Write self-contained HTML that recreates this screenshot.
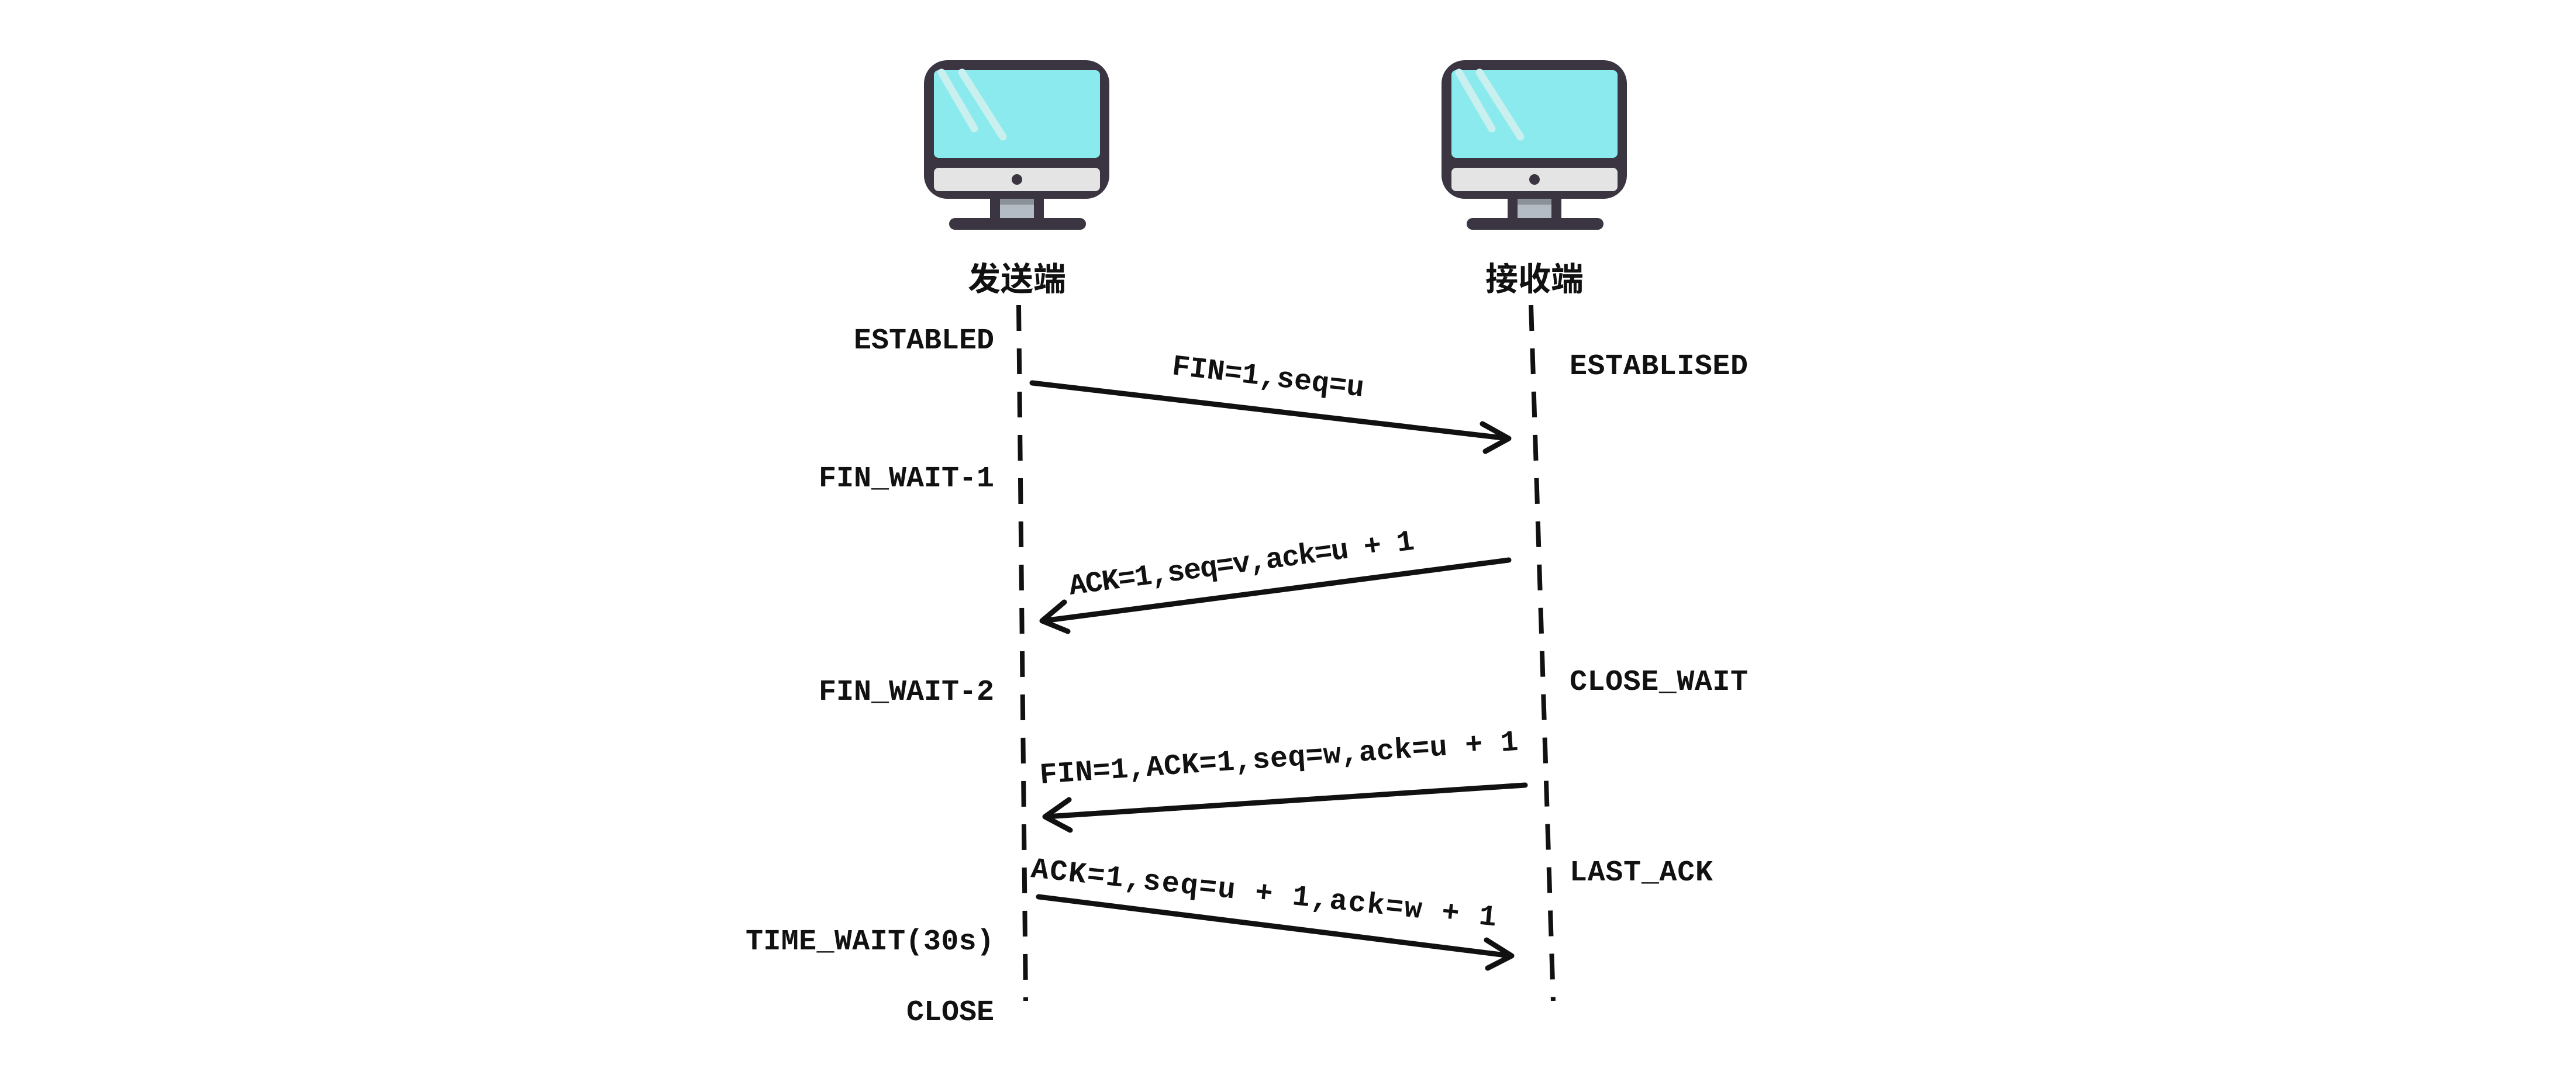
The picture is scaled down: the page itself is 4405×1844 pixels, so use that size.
<!DOCTYPE html>
<html><head><meta charset="utf-8"><style>html,body{margin:0;padding:0;background:#fff}svg{display:block}</style></head>
<body>
<svg width="4405" height="1844" viewBox="0 0 4405 1844" xmlns="http://www.w3.org/2000/svg">
<defs>
<g id="mon">
<rect x="1580" y="103" width="317" height="237" rx="40" fill="#3a3541"/>
<rect x="1597" y="120" width="284" height="150" rx="8" fill="#8aeaee"/>
<line x1="1610" y1="124" x2="1666" y2="220" stroke="#c9efef" stroke-width="13" stroke-linecap="round"/>
<line x1="1645" y1="124" x2="1715" y2="234" stroke="#c9efef" stroke-width="13" stroke-linecap="round"/>
<rect x="1597" y="287" width="284" height="40" rx="8" fill="#e4e4e4"/>
<circle cx="1739" cy="307" r="9" fill="#3a3541"/>
<rect x="1693" y="338" width="92" height="42" fill="#3a3541"/>
<rect x="1710" y="340" width="58" height="36" fill="#b3bbc4"/>
<rect x="1710" y="340" width="58" height="10" fill="#8a9199"/>
<rect x="1623" y="373" width="234" height="20" rx="10" fill="#3a3541"/>
</g>
</defs>
<use href="#mon"/>
<use href="#mon" transform="translate(885,0)"/>
<g font-family="'Liberation Sans','WenQuanYi Zen Hei','Noto Sans CJK SC',sans-serif" font-size="56" font-weight="bold" text-anchor="middle" fill="#111">
<text x="1739" y="497">发送端</text>
<text x="2624" y="497">接收端</text>
</g>
<g stroke="#111" stroke-width="8" stroke-dasharray="44 30">
<line x1="1742" y1="522" x2="1754" y2="1712"/>
<line x1="2618" y1="522" x2="2656" y2="1712"/>
</g>
<g stroke="#111" stroke-width="9" fill="none" stroke-linecap="round" stroke-linejoin="round">
<line x1="1765" y1="655" x2="2578" y2="750"/>
<polyline points="2535,725 2580,750 2540,772"/>
<line x1="2580" y1="958" x2="1784" y2="1062"/>
<polyline points="1820,1030 1782,1062 1826,1080"/>
<line x1="2608" y1="1343" x2="1789" y2="1397"/>
<polyline points="1828,1368 1787,1397 1830,1420"/>
<line x1="1776" y1="1534" x2="2583" y2="1635"/>
<polyline points="2542,1608 2585,1635 2544,1656"/>
</g>
<g font-family="'Liberation Mono',monospace" font-size="50" font-weight="bold" fill="#111">
<g text-anchor="end">
<text x="1700" y="596" textLength="240">ESTABLED</text>
<text x="1700" y="832" textLength="300">FIN_WAIT-1</text>
<text x="1700" y="1197" textLength="300">FIN_WAIT-2</text>
<text x="1700" y="1624" textLength="425">TIME_WAIT(30s)</text>
<text x="1700" y="1745" textLength="150">CLOSE</text>
</g>
<text x="2684" y="640" textLength="305">ESTABLISED</text>
<text x="2684" y="1180" textLength="305">CLOSE_WAIT</text>
<text x="2684" y="1506" textLength="245">LAST_ACK</text>
<text transform="translate(2003,640) rotate(6.6)" textLength="330">FIN=1,seq=u</text>
<text transform="translate(1830,1017) rotate(-7.5)" textLength="595">ACK=1,seq=v,ack=u + 1</text>
<text transform="translate(1779,1340) rotate(-4)" textLength="820">FIN=1,ACK=1,seq=w,ack=u + 1</text>
<text transform="translate(1762,1500) rotate(6)" textLength="800">ACK=1,seq=u + 1,ack=w + 1</text>
</g>
</svg>
</body></html>
